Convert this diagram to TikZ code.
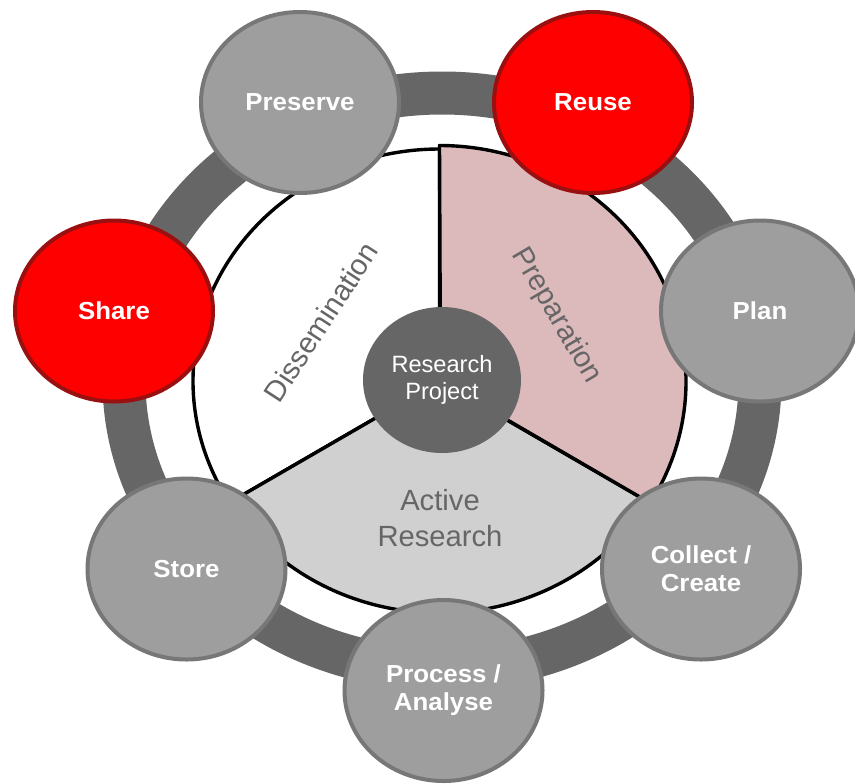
\documentclass[tikz,border=0pt]{standalone}
\usepackage{fontspec}
\setmainfont{Liberation Sans}
\newfontfamily\stagefont{Liberation Sans}[FakeStretch=1.05]
\usetikzlibrary{shapes.geometric}
\definecolor{ringgray}{HTML}{666666}
\definecolor{nodegray}{HTML}{9E9E9E}
\definecolor{nodeborder}{HTML}{777777}
\definecolor{redfill}{HTML}{FF0000}
\definecolor{redborder}{HTML}{9A1010}
\definecolor{pinkfill}{HTML}{DCB9BB}
\definecolor{activefill}{HTML}{D0D0D0}
\definecolor{labelgray}{HTML}{666666}
\begin{document}
\begin{tikzpicture}[x=0.5pt,y=0.5pt,
  stage/.style={ellipse, draw=nodeborder, fill=nodegray, line width=2pt,
    minimum width=99pt, minimum height=90.5pt, inner sep=0pt, text=white,
    font=\stagefont\fontsize{12.3}{14}\selectfont\bfseries, align=center},
  hot/.style={stage, draw=redborder, fill=redfill},
  sector/.style={draw=black, line width=1.7pt, line join=round},
  phase/.style={text=labelgray, font=\fontsize{14.6}{18.3}\selectfont, align=center, inner sep=0pt}]
\useasboundingbox (0,0) rectangle (855,-783);
\fill[white] (0,0) rectangle (855,-783);
% ring
\draw[ringgray, line width=21.5pt] (442,-381) ellipse [x radius=318, y radius=288];
% sectors
\begin{scope}[shift={(439.5,-381)}]
 \coordinate (cc) at (0,0);
 \coordinate (pl) at ({246.5*cos(211.6)},{232*sin(211.6)});
 \coordinate (pr) at ({246.5*cos(328.4)},{232*sin(328.4)});
 \coordinate (prt) at ({246.5*cos(328.4)},{235.5*sin(328.4)});
 \draw[sector, fill=white] (cc) -- (0,232)
   arc[start angle=90, end angle=211.6, x radius=246.5, y radius=232] -- cycle;
 \draw[sector, fill=activefill] (cc) -- (pl)
   arc[start angle=211.6, end angle=328.4, x radius=246.5, y radius=232] -- cycle;
 \draw[sector, fill=pinkfill] (1,0) -- (pr) -- (prt)
   arc[start angle=328.4, end angle=450, x radius=246.5, y radius=235.5] -- (1,0) -- cycle;
\end{scope}
% centre
\node[ellipse, fill=ringgray, minimum width=79pt, minimum height=73pt, inner sep=0pt,
  text=white, font=\fontsize{11.8}{13.3}\selectfont, align=center] (rp) at (442,-380) {Research\\Project};
% phase labels
\node[phase, rotate=57] (dis) at (321,-322) {Dissemination};
\node[phase, rotate=-59.5] (prep) at (556,-316) {Preparation};
\node[phase] (act) at (440,-518) {Active\\Research};
% stages
\node[stage] (preserve) at (300,-102.5) {Preserve};
\node[hot] (reuse) at (593,-102.5) {Reuse};
\node[hot] (share) at (114,-311) {Share};
\node[stage] (plan) at (760,-311) {Plan};
\node[stage] (collect) at (701,-569) {Collect /\\Create};
\node[stage] (process) at (443.5,-690.5) {Process /\\Analyse};
\node[stage] (store) at (186.5,-569) {Store};
\end{tikzpicture}
\end{document}
